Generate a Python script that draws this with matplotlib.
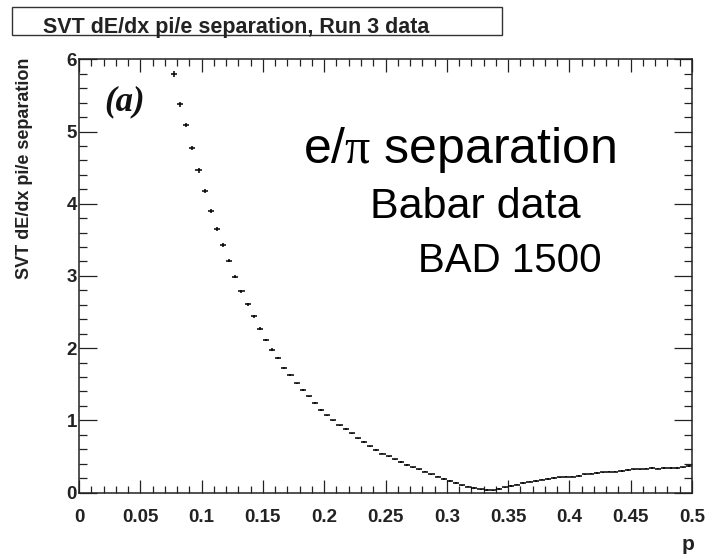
import matplotlib
matplotlib.use("Agg")
import matplotlib.pyplot as plt
from matplotlib.ticker import MultipleLocator, FixedLocator
from matplotlib.patches import Rectangle

# ---- data -------------------------------------------------------------
p_bins = [0.0775 + 0.005 * k for k in range(85)]  # bin centres (0.005 wide)
separation = [
    5.80, 5.38, 5.09, 4.77, 4.46, 4.18, 3.90, 3.65, 3.43, 3.21,
    2.99, 2.79, 2.61, 2.44, 2.27, 2.11, 1.98, 1.86, 1.73, 1.63,
    1.51, 1.42, 1.33, 1.24, 1.14, 1.07, 1.00, 0.93, 0.88, 0.82,
    0.75, 0.70, 0.64, 0.59, 0.54, 0.50, 0.46, 0.42, 0.38, 0.35,
    0.32, 0.29, 0.25, 0.22, 0.19, 0.16, 0.13, 0.10, 0.08, 0.06,
    0.045, 0.035, 0.03, 0.05, 0.07, 0.09, 0.11, 0.13, 0.15, 0.16,
    0.18, 0.19, 0.20, 0.21, 0.22, 0.22, 0.23, 0.25, 0.26, 0.27,
    0.28, 0.29, 0.29, 0.30, 0.31, 0.32, 0.32, 0.33, 0.34, 0.33,
    0.34, 0.34, 0.34, 0.35, 0.37,
]
sep_err = [
    0.04, 0.035, 0.03, 0.03, 0.03, 0.03, 0.025, 0.025, 0.025, 0.02,
    0.02, 0.02, 0.02, 0.02, 0.02, 0.015, 0.015, 0.015, 0.015, 0.015,
] + [0.01] * 65
x_ticks = [0, 0.05, 0.1, 0.15, 0.2, 0.25, 0.3, 0.35, 0.4, 0.45, 0.5]
x_ticklabels = ["0", "0.05", "0.1", "0.15", "0.2", "0.25", "0.3", "0.35", "0.4", "0.45", "0.5"]
y_ticks = [0, 1, 2, 3, 4, 5, 6]
y_ticklabels = ["0", "1", "2", "3", "4", "5", "6"]

title = "SVT dE/dx pi/e separation, Run 3 data"
ylabel = "SVT dE/dx pi/e separation"
xlabel = "p"

# ---- figure -----------------------------------------------------------
plt.rcParams["mathtext.fontset"] = "custom"
plt.rcParams["mathtext.rm"] = "Liberation Serif"
plt.rcParams["mathtext.it"] = "Liberation Serif:italic"

W, H = 708, 555
fig = plt.figure(figsize=(W / 100, H / 100), dpi=100)

def fx(px):
    return px / W

def fy(py):
    return 1 - py / H

left, right, top, bottom = 79, 692, 59.3, 492.5
ax = fig.add_axes([fx(left), fy(bottom), fx(right - left), (bottom - top) / H])

ax.errorbar(p_bins, separation, xerr=0.0025, yerr=sep_err, fmt="none",
            ecolor="black", elinewidth=1.1, capsize=0)

ax.set_xlim(0, 0.5)
ax.set_ylim(0, 6)
ax.xaxis.set_major_locator(FixedLocator(x_ticks))
ax.set_xticklabels(x_ticklabels)
ax.xaxis.set_minor_locator(MultipleLocator(0.01))
ax.yaxis.set_major_locator(FixedLocator(y_ticks))
ax.set_yticklabels(y_ticklabels)
ax.yaxis.set_minor_locator(MultipleLocator(0.2))

for s in ax.spines.values():
    s.set_linewidth(1.1)
    s.set_color("#222222")

ax.tick_params(axis="x", which="major", direction="in", length=9.5, width=0.9,
               top=True, bottom=True, pad=12, colors="#222222")
ax.tick_params(axis="x", which="minor", direction="in", length=5, width=0.9,
               top=True, bottom=True, colors="#222222")
ax.tick_params(axis="y", which="major", direction="in", length=13, width=0.9,
               left=True, right=True, pad=1.5, colors="#222222")
ax.tick_params(axis="y", which="minor", direction="in", length=6, width=0.9,
               left=True, right=True, colors="#222222")
for t in ax.get_xticklabels() + ax.get_yticklabels():
    t.set_fontfamily("Liberation Sans")
    t.set_fontweight("bold")
    t.set_fontsize(13.5)

# axis titles (ROOT style)
fig.text(fx(25), fy(58), ylabel, rotation=90, ha="center", va="top",
         fontfamily="Liberation Sans", fontweight="bold", fontsize=13, color="#222222")
fig.text(fx(688), fy(550), xlabel, ha="center", va="baseline",
         fontfamily="Liberation Sans", fontweight="bold", fontsize=15, color="#222222")

# title box
fig.patches.append(Rectangle((fx(12), fy(35)), fx(502 - 12), (35 - 7) / H,
                             transform=fig.transFigure, facecolor="white",
                             edgecolor="#333333", linewidth=1.0))
fig.text(fx(43), fy(33), title, ha="left", va="baseline",
         fontfamily="Liberation Sans", fontweight="bold", fontsize=15.5, color="#222222")

# annotations
fig.text(fx(104), fy(110), "(a)", ha="left", va="baseline",
         fontfamily="Liberation Serif", fontstyle="italic", fontweight="bold",
         fontsize=25, color="#111111")
fig.text(fx(303), fy(163), r"e/$\mathrm{\pi}$ separation", ha="left", va="baseline",
         fontfamily="Liberation Sans", fontsize=36, color="black")
fig.text(fx(370), fy(218), "Babar data", ha="left", va="baseline",
         fontfamily="Liberation Sans", fontsize=31, color="black")
fig.text(fx(418), fy(272), "BAD 1500", ha="left", va="baseline",
         fontfamily="Liberation Sans", fontsize=29, color="black")

fig.savefig("out.png", dpi=100)
